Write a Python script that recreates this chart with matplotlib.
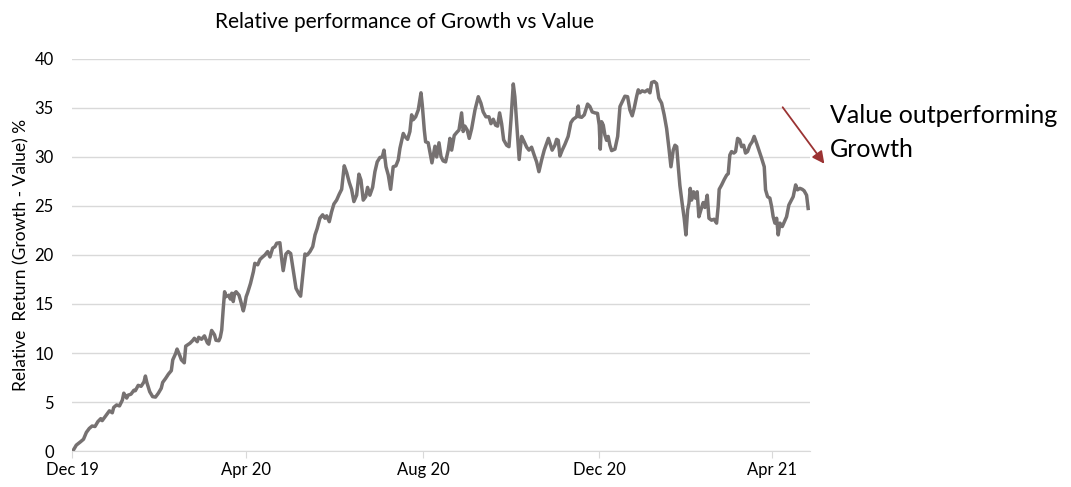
import numpy as np
import pandas as pd
import matplotlib
matplotlib.use("Agg")
import matplotlib.pyplot as plt

# days after 31 Dec 2019, and relative return (Growth - Value) in %
days_since_start = [
    1, 3, 6, 8, 10, 12, 14, 16, 18, 20, 21, 24, 26, 28, 29, 31, 33, 35, 36, 38,
    39, 41, 43, 44, 46, 48, 50, 51, 52, 54, 56, 58, 60, 62, 63, 65, 67, 69, 70, 72,
    73, 75, 76, 78, 79, 81, 82, 84, 85, 87, 88, 90, 92, 94, 95, 96, 97, 99, 100, 102,
    103, 104, 105, 106, 107, 109, 110, 111, 112, 113, 114, 116, 117, 119, 120, 121, 122, 124, 126, 127,
    129, 130.6, 132.4, 134, 135.9, 137.5, 139.4, 141, 142.2, 144.4, 145.6, 146.7, 148.6, 150.2, 151.9, 153.7,
    155.6, 157.4, 158.8, 160.2, 161.8, 163.4, 165.3, 167.2, 168.8, 170.3, 172.2, 174.1, 175.7, 176.9, 178.7, 180.3,
    181.9, 183.8, 185.6, 187.3, 189.1, 190.8, 192.6, 194.2, 195.8, 197.7, 199.3, 200.7, 202.3, 204, 205.3, 206.9,
    208.8, 210.4, 212, 213.9, 215.5, 216.7, 218.1, 219.7, 221.3, 223.1, 225, 226.6, 227.8, 230.1, 231.2, 233.1,
    234.7, 235.9, 237, 238.7, 240.5, 242.4, 243.3, 244.7, 245.6, 247.4, 250, 252.1, 253.3, 254.9, 256.3, 257.8,
    259.5, 261.3, 262.5, 263.7, 265.5, 267.2, 268.8, 270.6, 271.7, 272.9, 274.5, 275.9, 277.6, 279.9, 282.2, 284,
    285.6, 287.5, 289.6, 291, 292.6, 294.2, 295.6, 297, 298.4, 299.8, 301.9, 303.5, 304.9, 306.5, 307.6, 309.5,
    310.6, 312.3, 314.1, 315.8, 317.4, 319.2, 321, 322.7, 324.3, 326.2, 328, 330.9, 333.5, 335.4, 336.6, 337.7,
    338.9, 340.5, 342.4, 344.6, 346.5, 348.1, 350.5, 351.6, 352.3, 354, 355.8, 358.1, 359.7, 361.3, 363.2, 365,
    366.2, 366.9, 367.8, 369, 370.1, 371.3, 372.4, 373.6, 374.8, 377.1, 379, 380.6, 382.2, 384, 385.9, 387.5,
    389.1, 390.5, 392.2, 393.3, 394.4, 396, 397.9, 399.8, 401.4, 402.6, 404.4, 406, 407.6, 409.5, 411.3, 413,
    414.6, 416, 417.6, 418.8, 420, 421.1, 422.2, 423.8, 425.2, 426.4, 427.6, 428.5, 429.4, 430.3, 431.7, 433.1,
    434.2, 435.4, 436.8, 438.4, 439.6, 441.2, 442.4, 444.2, 446, 447.7, 448.8, 449.5, 451.2, 453, 454.7, 455.8,
    456.9, 458.1, 459.7, 460.9, 462.3, 463.7, 465.1, 466.5, 467.8, 469.2, 470.8, 472.4, 473.8, 475.5, 477.1, 478.9,
    480.8, 481.7, 483.1, 484.7, 485.9, 487, 488.2, 489.4, 490.5, 491.7, 493.3, 496.3, 497.9, 500.9, 502.6, 503.9,
    505.6, 507.2, 508.5, 510.2, 511.3,
]
rel_return = [
    0.1, 0.6, 0.95, 1.2, 1.9, 2.3, 2.55, 2.5, 3.0, 3.3, 3.1, 3.7, 4.1, 3.9, 4.45, 4.7, 4.6, 5.2, 5.9, 5.4,
    5.7, 5.8, 6.2, 6.15, 6.7, 6.6, 7.05, 7.65, 7.0, 6.05, 5.55, 5.5, 5.9, 6.4, 7.0, 7.4, 7.85, 8.2, 9.3, 9.95,
    10.4, 9.7, 9.3, 9.0, 10.7, 10.9, 11.0, 11.3, 11.5, 11.15, 11.6, 11.4, 11.75, 11.05, 10.9, 11.65, 12.3, 11.85, 11.3, 11.25,
    11.6, 12.35, 14.4, 16.25, 15.75, 15.9, 15.5, 16.1, 15.25, 16.1, 16.25, 15.9, 15.4, 14.3, 14.9, 15.75, 16.15, 17.1, 18.3, 19.15,
    19.0, 19.55, 19.8, 20.0, 20.35, 19.8, 20.7, 20.85, 21.2, 21.25, 19.65, 18.4, 20.1, 20.35, 20.15, 18.45,
    16.6, 16.1, 15.8, 17.8, 20.1, 20.0, 20.35, 20.85, 22.05, 22.7, 23.75, 24.1, 23.75, 24.0, 23.4, 24.4,
    25.2, 25.6, 26.2, 26.7, 29.1, 28.4, 27.4, 26.7, 25.45, 26.1, 28.25, 27.65, 25.6, 25.95, 26.9, 26.1,
    26.9, 28.5, 29.5, 29.95, 30.0, 30.7, 29.0, 28.15, 26.7, 29.0, 29.1, 29.7, 30.9, 32.4, 32.1, 31.8,
    32.6, 34.3, 33.8, 34.1, 34.8, 36.55, 35.3, 32.75, 31.55, 31.45, 29.4, 31.1, 30.0, 31.45, 30.05, 29.6,
    29.5, 30.7, 31.9, 30.7, 32.2, 32.5, 32.75, 34.5, 32.6, 33.15, 32.75, 31.9, 32.9, 34.8, 36.15, 35.5,
    34.6, 34.1, 34.1, 33.4, 33.85, 33.25, 33.15, 34.5, 33.4, 31.75, 31.2, 31.05, 33.8, 37.45, 36.15, 32.1,
    29.75, 32.1, 31.55, 31.0, 30.7, 31.0, 30.2, 29.5, 28.5, 29.7, 30.7, 31.9, 30.7, 31.2, 31.8, 31.7,
    30.1, 30.7, 31.3, 32.1, 33.5, 33.85, 34.1, 35.2, 34.1, 34.05, 34.3, 35.4, 35.15, 34.6, 34.5, 34.45,
    33.25, 30.8, 33.6, 33.25, 32.25, 31.7, 32.1, 31.2, 30.65, 30.8, 32.1, 35.15, 35.65, 36.2, 36.15, 34.8,
    34.2, 35.0, 36.2, 36.85, 36.55, 36.75, 36.65, 36.85, 36.55, 37.6, 37.7, 37.5, 36.0, 35.5, 34.3, 32.9,
    30.9, 29.0, 30.7, 31.2, 31.05, 29.0, 27.1, 25.25, 23.75, 22.05, 24.6, 25.25, 26.8, 25.6, 26.45, 25.8,
    26.45, 23.9, 24.6, 25.35, 24.85, 26.1, 23.75, 23.55, 23.65, 23.25, 24.95, 26.7, 27.15, 27.7, 28.15, 28.3,
    30.2, 30.55, 30.4, 30.55, 31.9, 31.75, 31.05, 31.2, 30.4, 30.55, 31.2, 31.55, 32.1, 31.4, 30.7, 29.9,
    29.0, 26.65, 25.95, 25.8, 24.95, 23.9, 23.25, 23.75, 22.05, 23.25, 22.9, 23.9, 25.1, 25.95, 27.15, 26.65,
    26.8, 26.7, 26.55, 26.1, 24.75,
]

start = pd.Timestamp("2019-12-31")
dates = start + pd.to_timedelta(np.array(days_since_start), unit="D")

tick_dates = pd.to_datetime(["2019-12-31", "2020-04-30", "2020-08-31", "2020-12-31", "2021-04-30"])
tick_labels = ["Dec 19", "Apr 20", "Aug 20", "Dec 20", "Apr 21"]

plt.rcParams["font.family"] = ["Lato", "DejaVu Sans"]

fig = plt.figure(figsize=(10.71, 4.87), dpi=100)
ax = fig.add_axes([0.0672, 0.0739, 0.689, 0.805])

ax.plot(dates, rel_return, color="#767171", lw=2.5, solid_joinstyle="round")

ax.set_ylim(0, 40)
ax.set_yticks(np.arange(0, 41, 5))
ax.set_xlim(start, start + pd.Timedelta(days=512.5))
ax.set_xticks(tick_dates)
ax.set_xticklabels(tick_labels)

ax.grid(axis="y", color="#d9d9d9", lw=1)
ax.set_axisbelow(True)
for side in ["top", "right", "left"]:
    ax.spines[side].set_visible(False)
ax.spines["bottom"].set_color("#d9d9d9")
ax.tick_params(axis="y", length=0, pad=13, labelsize=12, labelcolor="#000000")
ax.tick_params(axis="x", length=5, color="#d9d9d9", pad=3, labelsize=12)

ax.set_ylabel("Relative  Return (Growth - Value) %", fontsize=12.5, labelpad=4)
fig.text(0.378, 0.955, "Relative performance of Growth vs Value", ha="center", va="center", fontsize=15)

fig.text(0.775, 0.728, "Value outperforming\nGrowth", ha="left", va="center", fontsize=18, linespacing=1.6)

ax.annotate("", xy=(826, 487 - 166), xytext=(781, 487 - 105),
            xycoords="figure pixels", textcoords="figure pixels",
            arrowprops=dict(arrowstyle="-|>", color="#9b3333", lw=1.3, mutation_scale=18))

fig.savefig("out.png", dpi=100)
